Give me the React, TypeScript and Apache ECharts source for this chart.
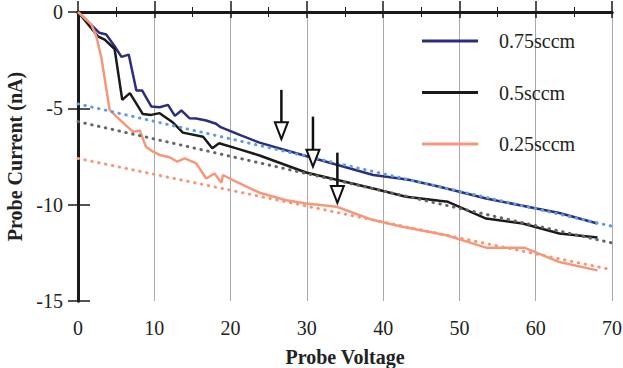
import React, { useEffect, useRef } from "react";
import * as echarts from "echarts";

const seriesNames = ["0.75sccm", "0.5sccm", "0.25sccm"];
const seriesColors = ["#2b2e80", "#1a1a1a", "#f7977a"];
const fitColors = ["#5e9de0", "#666666", "#f7977a"];

const data075: number[][] = [
  [0, 0], [2.8, -1.08], [3.7, -1.17], [4.8, -1.78], [5.7, -2.33], [6.65, -2.21], [7.65, -4.07],
  [8.4, -4.07], [9.6, -4.9], [10.7, -4.94], [11.8, -4.82], [12.7, -5.39], [13.55, -5.11],
  [14.6, -5.51], [15.5, -5.53], [16.8, -5.63], [18.1, -5.8], [18.7, -5.98], [21.2, -6.38],
  [23.8, -6.78], [30.1, -7.5], [38.7, -8.46], [42.2, -8.64], [43.5, -8.72], [47.4, -9.07],
  [50, -9.33], [53.5, -9.68], [60.1, -10.2], [63.1, -10.43], [68.1, -10.98],
];
const data05: number[][] = [
  [0, 0], [2.6, -1.26], [3.5, -1.43], [4.8, -1.92], [5.8, -4.56], [6.8, -4.21], [8.5, -5.3],
  [9.6, -5.34], [10.7, -5.25], [12.45, -5.74], [13.75, -6.26], [16.4, -6.47], [17.6, -7.07],
  [18.5, -6.81], [21.2, -7.13], [23.8, -7.45], [29.9, -8.33], [38.7, -9.16], [43.0, -9.59],
  [47.4, -9.8], [48.5, -9.85], [53.5, -10.72], [58.3, -10.98], [63.1, -11.5], [68.1, -11.71],
];
const data025: number[][] = [
  [0, 0], [1.75, -0.65], [2.4, -1.26], [3.07, -2.39], [4.15, -5.08], [5.25, -5.51], [6.35, -5.91],
  [7.2, -6.21], [8.1, -6.15], [8.9, -6.99], [9.83, -7.25], [10.7, -7.42], [12.0, -7.54],
  [13.0, -7.77], [14.0, -7.6], [15.5, -7.86], [16.8, -8.64], [17.9, -8.38], [18.8, -8.86],
  [19.0, -8.46], [20.3, -8.72], [23.8, -9.38], [27.3, -9.77], [29.9, -9.94], [33.9, -10.11],
  [38.7, -10.8], [42.2, -11.12], [48.3, -11.59], [53.5, -12.23], [58.5, -12.23], [63.1, -12.98],
  [68.1, -13.41],
];
const fit075: number[][] = [[0, -4.77], [70, -11.12]];
const fit05: number[][] = [[0, -5.69], [70, -11.99]];
const fit025: number[][] = [[0, -7.6], [70, -13.38]];
// arrows: [x, startY, tipY]
const arrowX = [26.66, 30.8, 34.0];
const arrowTop = [-4.04, -5.43, -7.3];
const arrowTip = [-6.6, -8.03, -9.91];

const FONT = "Liberation Serif";

export default function App() {
  const ref = useRef<HTMLDivElement>(null);
  useEffect(() => {
    document.body.style.margin = "0";
    const chart = echarts.init(ref.current!, null, { renderer: "svg" });
    const xBase = { type: "value", min: 0, max: 70, interval: 10 };
    const yBase = { type: "value", min: -15, max: 0, interval: 5 };
    const solid = [data075, data05, data025];
    const fits = [fit075, fit05, fit025];
    const arrows = arrowX.map((x, i) => [x, arrowTop[i], arrowTip[i]]);
    chart.setOption({
      animation: false,
      backgroundColor: "#ffffff",
      textStyle: { fontFamily: FONT },
      grid: { left: 78, right: 11, top: 12, bottom: 67, containLabel: false, outerBoundsMode: "none" },
      legend: {
        data: seriesNames,
        orient: "vertical",
        left: 417,
        top: 26,
        itemWidth: 56,
        itemHeight: 3,
        itemGap: 31.5,
        icon: "rect",
        textStyle: { fontSize: 20, fontFamily: FONT, color: "#222", padding: [0, 0, 0, 16] },
      },
      xAxis: [
        {
          ...xBase,
          position: "bottom",
          name: "Probe Voltage",
          nameLocation: "middle",
          nameGap: 46,
          nameTextStyle: { fontSize: 20, fontWeight: "bold", fontFamily: FONT, color: "#222" },
          axisLine: { show: true, lineStyle: { color: "#1a1a1a", width: 3 } },
          axisTick: { show: true, length: 6, lineStyle: { color: "#1a1a1a", width: 1.5 } },
          minorTick: { show: true, splitNumber: 2, length: 5, lineStyle: { color: "#1a1a1a", width: 1 } },
          axisLabel: { fontSize: 20, fontFamily: FONT, color: "#222", margin: 17 },
          splitLine: { show: true, lineStyle: { color: "#aaaaaa", width: 1 } },
        },
        {
          ...xBase,
          position: "bottom",
          axisLine: { show: false },
          axisTick: { show: true, inside: true, length: 11, lineStyle: { color: "#1a1a1a", width: 1.5 } },
          minorTick: { show: true, splitNumber: 2, length: 5, lineStyle: { color: "#1a1a1a", width: 1 } },
          axisLabel: { show: false },
          splitLine: { show: false },
        },
        {
          ...xBase,
          position: "top",
          axisLine: { show: true, lineStyle: { color: "#1a1a1a", width: 3 } },
          axisTick: { show: false },
          axisLabel: { show: false },
          splitLine: { show: false },
        },
      ],
      yAxis: [
        {
          ...yBase,
          position: "left",
          name: "Probe Current (nA)",
          nameLocation: "middle",
          nameGap: 44,
          nameTextStyle: { fontSize: 20, fontWeight: "bold", fontFamily: FONT, color: "#222" },
          axisLine: { show: true, lineStyle: { color: "#1a1a1a", width: 3 } },
          axisTick: { show: true, length: 10, lineStyle: { color: "#1a1a1a", width: 1.5 } },
          axisLabel: { fontSize: 20, fontFamily: FONT, color: "#222", margin: 15 },
          splitLine: { show: false },
        },
        {
          ...yBase,
          position: "left",
          axisLine: { show: false },
          axisTick: { show: true, inside: true, length: 12, lineStyle: { color: "#1a1a1a", width: 1.5 } },
          axisLabel: { show: false },
          splitLine: { show: false },
        },
        {
          ...yBase,
          position: "right",
          axisLine: { show: true, lineStyle: { color: "#1a1a1a", width: 3 } },
          axisTick: { show: false },
          axisLabel: { show: false },
          splitLine: { show: false },
        },
      ],
      series: [
        ...solid.map((d, i) => ({
          name: seriesNames[i],
          type: "line",
          data: d,
          showSymbol: false,
          symbol: "none",
          color: seriesColors[i],
          lineStyle: { color: seriesColors[i], width: 2.5 },
          z: 3,
        })),
        ...fits.map((d, i) => ({
          name: "fit" + i,
          type: "line",
          data: d,
          symbol: "none",
          color: fitColors[i],
          lineStyle: { color: fitColors[i], width: 3, type: [0.5, 6.5], cap: "round" },
          z: 4,
        })),
        {
          name: "arrows",
          type: "custom",
          data: arrows,
          z: 5,
          renderItem: (_params: any, api: any) => {
            const p0 = api.coord([api.value(0), api.value(1)]);
            const p1 = api.coord([api.value(0), api.value(2)]);
            const headH = 17;
            const headW = 13;
            return {
              type: "group",
              children: [
                {
                  type: "line",
                  shape: { x1: p0[0], y1: p0[1], x2: p1[0], y2: p1[1] - headH },
                  style: { stroke: "#111", lineWidth: 2.5 },
                },
                {
                  type: "polygon",
                  shape: {
                    points: [
                      [p1[0] - headW / 2, p1[1] - headH],
                      [p1[0] + headW / 2, p1[1] - headH],
                      [p1[0], p1[1]],
                    ],
                  },
                  style: { fill: "#fff", stroke: "#111", lineWidth: 2 },
                },
              ],
            };
          },
        },
      ],
    });
    return () => chart.dispose();
  }, []);
  return <div ref={ref} style={{ width: 623, height: 368 }} />;
}
